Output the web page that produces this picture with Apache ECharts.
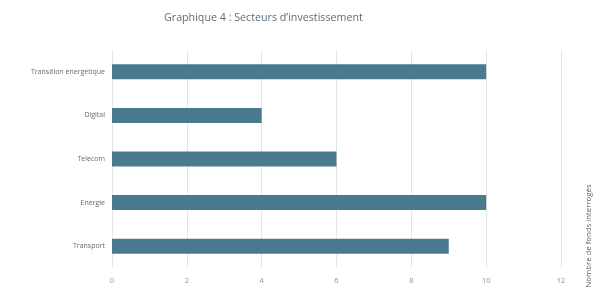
<!DOCTYPE html>
<html><head><meta charset="utf-8">
<script src="https://cdn.jsdelivr.net/npm/echarts@6/dist/echarts.min.js"></script>
<style>html,body{margin:0;padding:0;background:#fff}#c{width:600px;height:294px}</style>
</head><body><div id="c"></div>
<script>
const categories = ['Transition énergétique', 'Digital', 'Telecom', 'Energie', 'Transport'];
const values = [10, 4, 6, 10, 9];
const xTicks = [0, 2, 4, 6, 8, 10, 12];
const titleText = 'Graphique 4 : Secteurs d\u2019investissement';
const axisTitle = 'Nombre de fonds interrogés';

const chart = echarts.init(document.getElementById('c'), null, {renderer: 'canvas'});
chart.setOption({
  animation: false,
  title: {text: titleText, left: 159, top: 7,
    textStyle: {fontFamily: 'Open Sans', fontSize: 10.7, fontWeight: 'normal', color: '#5d6d79'}},
  grid: {left: 112, right: 39, top: 50, bottom: 26},
  xAxis: {type: 'value', min: xTicks[0], max: xTicks[xTicks.length-1], interval: 2,
    axisLine: {show: false}, axisTick: {show: false},
    splitLine: {lineStyle: {color: '#e3e6e9', width: 1}},
    axisLabel: {color: '#8a959d', fontSize: 7.5, fontFamily: 'Open Sans', margin: 9}},
  yAxis: {type: 'category', data: categories, inverse: true,
    axisLine: {show: false}, axisTick: {show: false},
    axisLabel: {color: '#5d6d79', fontSize: 7, fontFamily: 'Open Sans', margin: 7}},
  series: [{type: 'bar', data: values, barWidth: 15,
    itemStyle: {color: '#497a8f'}}],
  graphic: [{type: 'text', x: 589, y: 236, rotation: Math.PI/2,
    style: {text: axisTitle, fill: '#4f5f6c', fontSize: 7.8, fontFamily: 'Open Sans',
      textAlign: 'center', textVerticalAlign: 'middle'}}]
});
</script></body></html>
